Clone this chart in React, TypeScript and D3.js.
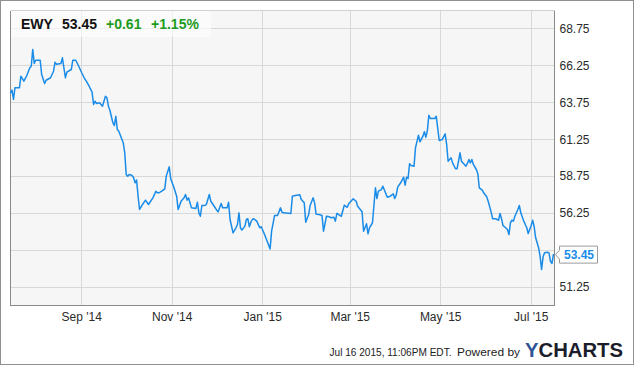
import React from "react";
import * as d3 from "d3";

// Daily closes for EWY, Jul 2014 - Jul 2015
const dates = [
  "2014-07-15", "2014-07-16", "2014-07-17", "2014-07-18", "2014-07-21", "2014-07-22", "2014-07-24", "2014-07-26", "2014-07-28", "2014-07-29", "2014-07-30", "2014-07-31",
  "2014-08-01", "2014-08-04", "2014-08-05", "2014-08-07", "2014-08-08", "2014-08-11", "2014-08-13", "2014-08-14", "2014-08-15", "2014-08-18", "2014-08-19", "2014-08-21", "2014-08-22", "2014-08-25", "2014-08-26", "2014-08-28", "2014-08-30",
  "2014-09-01", "2014-09-03", "2014-09-04", "2014-09-06", "2014-09-08", "2014-09-09", "2014-09-10", "2014-09-11", "2014-09-13", "2014-09-15", "2014-09-17", "2014-09-18", "2014-09-19", "2014-09-20", "2014-09-22", "2014-09-23", "2014-09-24", "2014-09-25", "2014-09-26", "2014-09-29", "2014-09-30",
  "2014-10-01", "2014-10-02", "2014-10-03", "2014-10-05", "2014-10-06", "2014-10-07", "2014-10-08", "2014-10-09", "2014-10-10", "2014-10-12", "2014-10-14", "2014-10-16", "2014-10-19", "2014-10-21", "2014-10-22", "2014-10-23", "2014-10-25", "2014-10-27", "2014-10-28", "2014-10-30", "2014-10-31",
  "2014-11-02", "2014-11-04", "2014-11-05", "2014-11-07", "2014-11-09", "2014-11-10", "2014-11-11", "2014-11-12", "2014-11-14", "2014-11-17", "2014-11-18", "2014-11-19", "2014-11-20", "2014-11-21", "2014-11-23", "2014-11-24", "2014-11-26", "2014-11-27", "2014-11-29",
  "2014-12-01", "2014-12-02", "2014-12-04", "2014-12-05", "2014-12-08", "2014-12-09", "2014-12-10", "2014-12-12", "2014-12-14", "2014-12-15", "2014-12-16", "2014-12-17", "2014-12-18", "2014-12-20", "2014-12-21", "2014-12-22", "2014-12-23", "2014-12-24", "2014-12-25", "2014-12-26", "2014-12-28", "2014-12-30", "2014-12-31",
  "2015-01-02", "2015-01-04", "2015-01-06", "2015-01-07", "2015-01-09", "2015-01-11", "2015-01-13", "2015-01-14", "2015-01-15", "2015-01-20", "2015-01-21", "2015-01-23", "2015-01-26", "2015-01-27", "2015-01-29", "2015-01-30",
  "2015-02-01", "2015-02-02", "2015-02-04", "2015-02-05", "2015-02-06", "2015-02-08", "2015-02-10", "2015-02-11", "2015-02-13", "2015-02-15", "2015-02-16", "2015-02-18", "2015-02-19", "2015-02-20", "2015-02-23", "2015-02-25", "2015-02-27", "2015-02-28",
  "2015-03-03", "2015-03-05", "2015-03-06", "2015-03-09", "2015-03-10", "2015-03-12", "2015-03-13", "2015-03-14", "2015-03-16", "2015-03-18", "2015-03-19", "2015-03-20", "2015-03-22", "2015-03-23", "2015-03-26", "2015-03-28", "2015-03-30", "2015-03-31",
  "2015-04-01", "2015-04-02", "2015-04-04", "2015-04-06", "2015-04-07", "2015-04-08", "2015-04-09", "2015-04-10", "2015-04-11", "2015-04-13", "2015-04-14", "2015-04-16", "2015-04-17", "2015-04-19", "2015-04-20", "2015-04-21", "2015-04-22", "2015-04-23", "2015-04-24", "2015-04-27", "2015-04-28", "2015-04-30",
  "2015-05-02", "2015-05-04", "2015-05-05", "2015-05-06", "2015-05-08", "2015-05-09", "2015-05-11", "2015-05-12", "2015-05-13", "2015-05-14", "2015-05-15", "2015-05-17", "2015-05-18", "2015-05-19", "2015-05-20", "2015-05-21", "2015-05-22", "2015-05-23", "2015-05-25", "2015-05-26", "2015-05-27", "2015-05-29", "2015-05-30",
  "2015-06-01", "2015-06-02", "2015-06-04", "2015-06-05", "2015-06-07", "2015-06-08", "2015-06-09", "2015-06-10", "2015-06-11", "2015-06-12", "2015-06-13", "2015-06-15", "2015-06-16", "2015-06-17", "2015-06-18", "2015-06-19", "2015-06-20", "2015-06-22", "2015-06-23", "2015-06-24", "2015-06-26", "2015-06-28", "2015-06-29",
  "2015-07-01", "2015-07-02", "2015-07-03", "2015-07-04", "2015-07-06", "2015-07-07", "2015-07-08", "2015-07-09", "2015-07-10", "2015-07-12", "2015-07-13", "2015-07-14", "2015-07-15", "2015-07-16",
];

const closes = [
  64.42, 64.6, 63.97, 64.76, 64.76, 65.55, 65.21, 65.59, 66.12, 66.22, 67.36, 66.41,
  66.63, 66.63, 65.66, 65.05, 65.27, 65.44, 65.88, 66.49, 66.36, 66.41, 66.79, 65.44, 65.82, 66.0, 66.63, 66.63, 66.22,
  65.78, 65.37, 65.23, 64.87, 64.46, 63.63, 63.85, 63.69, 63.74, 63.51, 64.19, 64.08, 63.51, 63.24, 62.39, 62.2, 62.83, 61.93, 61.82, 61.03, 60.37,
  58.88, 58.77, 58.88, 58.81, 58.66, 58.32, 58.51, 57.41, 56.51, 56.85, 57.14, 56.85, 57.3, 57.75, 57.64, 57.64, 57.75, 57.91, 58.77, 59.4, 58.59,
  58.05, 57.41, 56.51, 57.07, 57.3, 57.53, 57.14, 57.3, 56.62, 56.58, 57.0, 56.28, 56.05, 56.78, 56.78, 56.85, 57.53, 57.07, 56.78,
  56.46, 56.35, 56.92, 56.62, 56.62, 57.0, 55.83, 54.93, 55.27, 55.49, 56.28, 55.27, 55.11, 55.38, 55.83, 55.88, 55.34, 55.65, 55.83, 55.88, 55.72, 55.27, 55.34,
  54.88, 54.36, 53.84, 55.04, 56.1, 56.1, 56.62, 56.33, 56.28, 56.24, 57.41, 57.46, 57.51, 57.19, 56.96, 55.65,
  56.17, 56.78, 57.3, 56.96, 56.19, 56.17, 56.1, 55.04, 56.05, 56.01, 55.95, 55.99, 55.72, 56.24, 56.05, 56.8, 56.66, 56.9,
  57.23, 57.07, 56.73, 56.35, 55.04, 55.54, 54.86, 55.27, 55.61, 57.98, 57.25, 57.75, 57.86, 58.09, 57.34, 57.41, 57.57, 57.25,
  57.48, 58.02, 58.32, 58.7, 58.16, 58.7, 58.61, 59.61, 59.49, 59.44, 60.69, 61.55, 61.1, 61.48, 61.78, 61.41, 61.86, 62.9, 62.68, 62.68, 62.83, 61.19,
  61.25, 61.64, 60.92, 59.78, 60.01, 59.67, 59.27, 59.27, 59.78, 60.35, 59.78, 59.56, 59.44, 59.63, 59.9, 59.67, 59.9, 59.56, 59.22, 58.95, 57.98, 57.82, 57.64,
  57.37, 57.07, 56.33, 55.88, 55.88, 55.83, 55.78, 56.24, 55.88, 55.42, 55.34, 55.15, 54.81, 55.61, 55.78, 55.72, 56.05, 56.51, 56.78, 56.28, 55.72, 55.27, 54.88,
  55.42, 55.78, 55.34, 54.59, 53.91, 53.34, 52.44, 53.3, 53.57, 53.61, 53.57, 53.0, 52.85, 53.45,
];

const ticker = "EWY";
const change = 0.61;
const changePct = 1.15;

const yTicks = [51.25, 53.75, 56.25, 58.75, 61.25, 63.75, 66.25, 68.75];
const xTickDates = ["2014-09-01", "2014-11-01", "2015-01-01", "2015-03-01", "2015-05-01", "2015-07-01"];
const xTickLabels = ["Sep '14", "Nov '14", "Jan '15", "Mar '15", "May '15", "Jul '15"];

const timestamp = "Jul 16 2015, 11:06PM EDT.";
const poweredBy = "Powered by";

const FONT = "'Liberation Sans', Arial, Helvetica, sans-serif";
const LINE_BLUE = "#1a8ce8";
const GREEN = "#1e9b1e";

type Pt = { date: Date; value: number };

export default function App() {
  const W = 635;
  const H = 366;
  const plot = { left: 10.5, right: 554.5, top: 10.5, bottom: 305.5 };

  const parse = d3.timeParse("%Y-%m-%d");
  const data: Pt[] = dates.map((d, i) => ({ date: parse(d) as Date, value: closes[i] }));

  const x = d3
    .scaleTime()
    .domain([new Date(2014, 6, 15), new Date(2015, 6, 16, 17)])
    .range([plot.left, plot.right]);
  const y = d3.scaleLinear().domain([50, 70]).range([plot.bottom, plot.top]);

  const line = d3
    .line<Pt>()
    .x((d) => x(d.date))
    .y((d) => y(d.value));

  const crisp = (v: number) => Math.round(v - 0.5) + 0.5;

  const last = data[data.length - 1];
  const cy = y(last.value);
  const fmt = d3.format(".2f");

  // axis labels that would sit under the last-value tag are left out
  const labelTicks = yTicks.filter((t) => Math.abs(y(t) - cy) > 12);

  const tagLeft = plot.right + 5;
  const tagRight = 597.5;
  const tagHalf = 8.5;
  const tagPath = [
    `M${plot.right + 1},${cy}`,
    `L${tagLeft},${cy - 4.5}`,
    `L${tagLeft},${cy - tagHalf}`,
    `L${tagRight},${cy - tagHalf}`,
    `L${tagRight},${cy + tagHalf}`,
    `L${tagLeft},${cy + tagHalf}`,
    `L${tagLeft},${cy + 4.5}`,
    "Z",
  ].join(" ");

  return (
    <svg
      width={W}
      height={H}
      viewBox={`0 0 ${W} ${H}`}
      style={{ position: "absolute", left: 0, top: 0, background: "#fff" }}
      fontFamily={FONT}
    >
      {/* outer frame */}
      <rect x={0.5} y={0.5} width={633} height={364} fill="#fff" stroke="#8f8f8f" strokeWidth={1} />

      {/* plot background */}
      <rect
        x={plot.left}
        y={plot.top}
        width={plot.right - plot.left}
        height={plot.bottom - plot.top}
        fill="#f6f6f6"
      />

      {/* grid */}
      <g stroke="#d8d8d8" strokeWidth={1} shapeRendering="crispEdges">
        {yTicks.map((t) => (
          <line key={`h${t}`} x1={plot.left} x2={plot.right} y1={crisp(y(t))} y2={crisp(y(t))} />
        ))}
        {xTickDates.map((d) => {
          const xx = crisp(x(parse(d) as Date));
          return <line key={`v${d}`} x1={xx} x2={xx} y1={plot.top} y2={plot.bottom} />;
        })}
      </g>

      {/* plot borders */}
      <g shapeRendering="crispEdges" strokeWidth={1}>
        <line x1={plot.left} x2={plot.right} y1={plot.top} y2={plot.top} stroke="#d0d0d0" />
        <line x1={plot.left} x2={plot.left} y1={plot.top} y2={plot.bottom} stroke="#8a8a8a" />
        <line x1={plot.right} x2={plot.right} y1={plot.top} y2={plot.bottom} stroke="#8a8a8a" />
        <line x1={plot.left} x2={plot.right} y1={plot.bottom} y2={plot.bottom} stroke="#8a8a8a" />
      </g>

      {/* price line */}
      <path
        d={line(data) ?? ""}
        fill="none"
        stroke={LINE_BLUE}
        strokeWidth={1.5}
        strokeLinejoin="round"
        strokeLinecap="round"
      />

      {/* header */}
      <rect x={plot.left + 0.5} y={plot.top + 0.5} width={200} height={26} fill="#fff" fillOpacity={0.6} />
      <g fontSize={14} fontWeight="bold">
        <text x={21} y={28.5} fill="#111">
          {ticker}
        </text>
        <text x={62} y={28.5} fill="#111">
          {fmt(last.value)}
        </text>
        <text x={106} y={28.5} fill={GREEN}>
          {`+${fmt(change)}`}
        </text>
        <text x={151} y={28.5} fill={GREEN}>
          {`+${fmt(changePct)}%`}
        </text>
      </g>

      {/* y axis labels */}
      <g fontSize={12} fill="#2a2a2a">
        {labelTicks.map((t) => (
          <text key={`yl${t}`} x={559.5} y={y(t) + 4}>
            {fmt(t)}
          </text>
        ))}
      </g>

      {/* x axis labels */}
      <g fontSize={12} fill="#2a2a2a" textAnchor="middle">
        {xTickDates.map((d, i) => (
          <text key={`xl${d}`} x={x(parse(d) as Date)} y={321}>
            {xTickLabels[i]}
          </text>
        ))}
      </g>

      {/* last value tag */}
      <path d={tagPath} fill="#fff" stroke="#9a9a9a" strokeWidth={1} />
      <text
        x={(tagLeft + tagRight) / 2 + 0.5}
        y={cy + 4.5}
        textAnchor="middle"
        fontSize={12}
        fontWeight="bold"
        fill={LINE_BLUE}
      >
        {fmt(last.value)}
      </text>

      {/* footer */}
      <g fontSize={11} fill="#222">
        <text x={329.5} y={356} textLength={122} lengthAdjust="spacingAndGlyphs">
          {timestamp}
        </text>
        <text x={457} y={356} textLength={63} lengthAdjust="spacingAndGlyphs">
          {poweredBy}
        </text>
      </g>
      <text
        x={525}
        y={356.5}
        fontSize={19.5}
        fontWeight="bold"
        textLength={98}
        lengthAdjust="spacingAndGlyphs"
      >
        <tspan fill="#2f5597">Y</tspan>
        <tspan fill="#1b1d2b">CHARTS</tspan>
      </text>
    </svg>
  );
}
